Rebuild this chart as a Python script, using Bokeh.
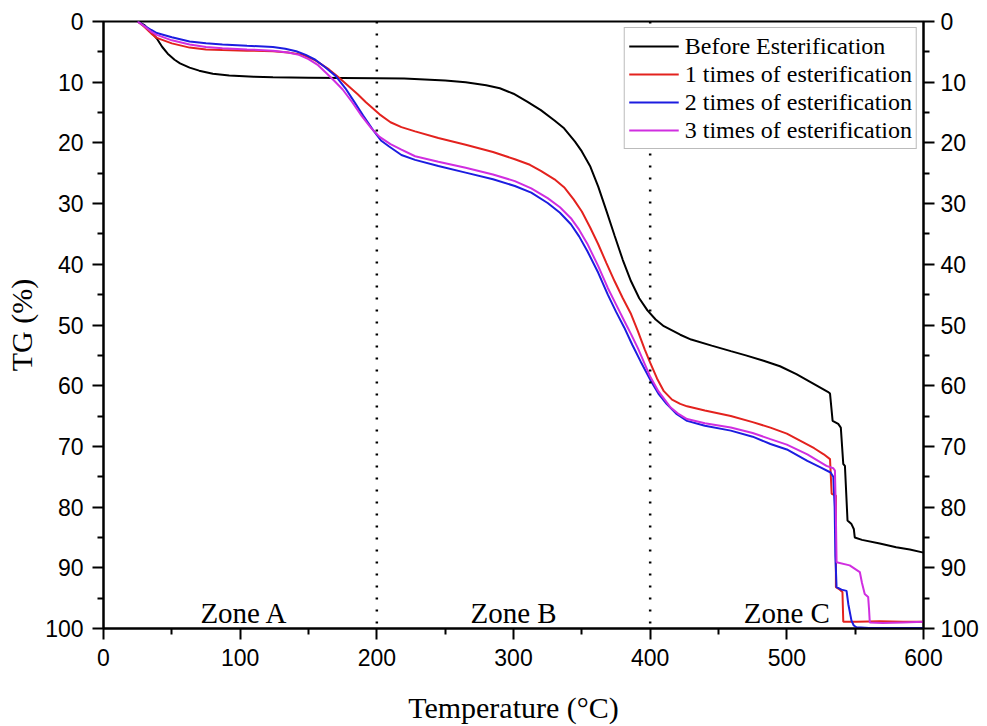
from bokeh.plotting import figure
from bokeh.models import Range1d, LinearAxis, FixedTicker, Legend, LegendItem, Span
from bokeh.embed import file_html
from bokeh.resources import INLINE
from bokeh.core.properties import value

# ---------------- data ----------------
t_before = [25, 30, 35, 39, 43, 47, 52, 56, 63, 70, 80, 92, 110, 124, 150, 175, 200, 220,
            250, 265, 280, 290, 300, 310, 320, 330, 337, 345, 350, 356, 362, 368, 374, 380, 386, 392,
            398, 404, 410, 422, 430, 445, 459, 470, 483, 495, 507, 519, 530, 531.6, 533.5,
            537.6, 539.5, 541.3, 542.5, 544.4, 547.3, 549, 549.7, 555, 568, 580, 590, 600]
tg_before = [0, 0.6, 1.8, 2.8, 4.2, 5.3, 6.3, 6.9, 7.6, 8.1, 8.6, 8.9, 9.1, 9.2, 9.25, 9.3, 9.35, 9.4,
             9.7, 10.0, 10.5, 11.0, 11.9, 13.2, 14.6, 16.3, 17.6, 19.8, 21.4, 23.8, 27.2, 31.2, 35.3, 39.3, 42.8, 45.6,
             47.6, 49.1, 50.2, 51.6, 52.4, 53.4, 54.3, 55.0, 55.9, 56.8, 58.1, 59.6, 61.0, 61.3, 65.8,
             66.3, 66.9, 72.9, 73.2, 82.2, 82.8, 83.6, 85.0, 85.4, 86.0, 86.6, 87.0, 87.5]

t_one = [25, 30, 35, 39, 50, 63, 75, 87, 105, 124, 135, 146, 155, 165, 172, 180, 186, 192, 197,
         202, 210, 218, 228, 245, 265, 285, 301, 312, 320, 330, 337, 344, 350, 356, 362, 368,
         374, 380, 386, 391, 396, 400, 405, 410, 416, 422, 427, 440, 459, 475, 488, 500, 510,
         520, 527, 531.6, 532.8, 535.9, 535.9, 538.8, 540.7, 541.3, 551, 568, 585, 600]
tg_one = [0, 0.9, 2.0, 2.7, 3.6, 4.3, 4.6, 4.7, 4.8, 4.9, 5.1, 5.5, 6.4, 7.9, 9.2, 10.8, 12.0, 13.3, 14.3,
          15.3, 16.6, 17.4, 18.1, 19.2, 20.3, 21.5, 22.7, 23.6, 24.6, 26.0, 27.3, 29.3, 31.3, 33.9, 36.7, 39.8,
          42.8, 45.6, 48.2, 51.0, 54.0, 56.2, 58.8, 60.9, 62.3, 63.0, 63.4, 64.1, 65.0, 66.0, 66.9, 67.9, 69.1,
          70.3, 71.3, 72.1, 77.8, 78.1, 93.2, 93.6, 94.0, 98.9, 98.9, 98.8, 98.9, 98.9]

t_two = [25, 30, 35, 39, 50, 63, 75, 87, 105, 124, 133, 141, 148, 155, 162, 170, 177, 184, 190,
         197, 203, 209, 218, 228, 245, 265, 285, 301, 313, 325, 334, 342, 348, 354, 362, 369,
         375, 381, 387, 393, 400, 406, 412, 419, 427, 440, 459, 475, 488, 500, 515, 525, 532,
         534, 535, 535.5, 536.4, 540, 543.7, 545, 547.3, 549, 551, 560, 600]
tg_two = [0, 0.7, 1.4, 1.9, 2.6, 3.3, 3.6, 3.8, 4.0, 4.2, 4.5, 4.9, 5.5, 6.3, 7.5, 9.0, 11.0, 13.4, 15.5,
          17.8, 19.6, 20.6, 22.0, 22.8, 23.8, 24.9, 26.0, 27.1, 28.2, 29.9, 31.5, 33.4, 35.4, 37.8, 41.4, 45.0,
          47.8, 50.4, 53.3, 56.0, 59.0, 61.3, 63.0, 64.6, 65.8, 66.6, 67.4, 68.4, 69.6, 70.5, 72.4, 73.5, 74.3,
          75.0, 80.0, 88.0, 93.2, 93.6, 93.8, 96.0, 98.7, 99.5, 99.8, 99.9, 99.9]

t_three = [25, 30, 35, 39, 50, 63, 75, 87, 105, 124, 135, 143, 150, 157, 163, 169, 175, 182, 189,
           196, 202, 210, 218, 228, 245, 265, 285, 301, 313, 325, 334, 342, 348, 354, 362, 369,
           375, 381, 386, 391, 400, 406, 415, 421, 427, 440, 459, 475, 488, 500, 515, 529, 534,
           535.2, 535.8, 536.4, 546, 553.4, 555, 557, 559.5, 560.2, 560.7, 570, 585, 600]
tg_three = [0, 0.8, 1.7, 2.2, 3.1, 3.8, 4.2, 4.4, 4.6, 4.8, 5.1, 5.5, 6.2, 7.2, 8.5, 9.8, 11.2, 13.3, 15.6,
            17.6, 19.0, 20.2, 21.1, 22.2, 23.1, 24.1, 25.2, 26.3, 27.5, 29.1, 30.6, 32.4, 34.3, 36.6, 40.3, 43.9,
            46.6, 49.3, 51.5, 53.8, 58.5, 60.9, 63.6, 64.7, 65.5, 66.2, 66.9, 67.8, 68.8, 69.7, 71.3, 73.2, 73.6,
            74.0, 80.0, 89.1, 89.6, 90.7, 92.5, 94.3, 94.8, 97.0, 99.0, 99.1, 99.0, 98.9]

series_names = ["Before Esterification", "1 times of esterification",
                "2 times of esterification", "3 times of esterification"]
series_colors = ["#000000", "#e3221e", "#1c1ce0", "#d02ee0"]

zone_boundaries = [200, 400]
zone_names = ["Zone A", "Zone B", "Zone C"]
zone_centers = [103, 300, 500]
zone_label_y = 97.4

x_ticks = [0, 100, 200, 300, 400, 500, 600]
x_minor = [50, 150, 250, 350, 450, 550]
y_ticks = [0, 10, 20, 30, 40, 50, 60, 70, 80, 90, 100]
y_minor = [5, 15, 25, 35, 45, 55, 65, 75, 85, 95]

# ---------------- figure ----------------
p = figure(width=983, height=726, output_backend="svg", toolbar_location=None,
           x_range=Range1d(0, 600), y_range=Range1d(100, 0),
           min_border_left=103, min_border_top=21, min_border_right=60, min_border_bottom=98)
p.xgrid.visible = False
p.ygrid.visible = False
p.outline_line_color = "black"
p.outline_line_width = 2
p.background_fill_color = "white"
p.border_fill_color = "white"

for b in zone_boundaries:
    p.add_layout(Span(location=b, dimension="height", line_color="black",
                      line_width=2.5, line_dash="2 10"))

renderers = []
for xs, ys, c in zip([t_before, t_one, t_two, t_three],
                     [tg_before, tg_one, tg_two, tg_three], series_colors):
    r = p.line(xs, ys, line_color=c, line_width=2)
    renderers.append(r)

p.text(x=zone_centers, y=[zone_label_y] * len(zone_centers), text=zone_names,
       text_font=value("Liberation Serif"), text_font_size="29px",
       text_align="center", text_baseline="alphabetic", text_color="black")

legend = Legend(items=[LegendItem(label=n, renderers=[r]) for n, r in zip(series_names, renderers)],
                location="top_right")
legend.margin = 6
legend.padding = 4
legend.spacing = 0
legend.glyph_width = 50
legend.glyph_height = 28
legend.label_height = 28
legend.label_standoff = 6
legend.label_text_font = "Liberation Serif"
legend.label_text_font_size = "24px"
legend.label_text_color = "black"
legend.border_line_color = "#777777"
legend.border_line_width = 1.5
legend.background_fill_alpha = 1
p.add_layout(legend)

right_axis = LinearAxis()
p.add_layout(right_axis, "right")


def style_axis(ax, ticks, minor):
    ax.ticker = FixedTicker(ticks=ticks, minor_ticks=minor)
    ax.axis_line_color = "black"
    ax.axis_line_width = 2
    ax.major_tick_line_color = "black"
    ax.major_tick_line_width = 2
    ax.minor_tick_line_color = "black"
    ax.minor_tick_line_width = 2
    ax.major_tick_out = 11
    ax.major_tick_in = 0
    ax.minor_tick_out = 6
    ax.minor_tick_in = 0
    ax.major_label_text_font = "Liberation Sans"
    ax.major_label_text_font_size = "23px"
    ax.major_label_text_color = "black"
    ax.major_label_standoff = 9
    ax.axis_label_text_font = "Liberation Serif"
    ax.axis_label_text_font_size = "30px"
    ax.axis_label_text_font_style = "normal"
    ax.axis_label_text_color = "black"


style_axis(p.xaxis[0], x_ticks, x_minor)
style_axis(p.yaxis[0], y_ticks, y_minor)
style_axis(right_axis, y_ticks, y_minor)
right_axis.major_label_standoff = 6
p.xaxis[0].axis_label = "Temperature (°C)"
p.xaxis[0].axis_label_standoff = 22
p.yaxis[0].axis_label = "TG (%)"
p.yaxis[0].axis_label_standoff = 4

open("out.html", "w").write(file_html(p, INLINE))
